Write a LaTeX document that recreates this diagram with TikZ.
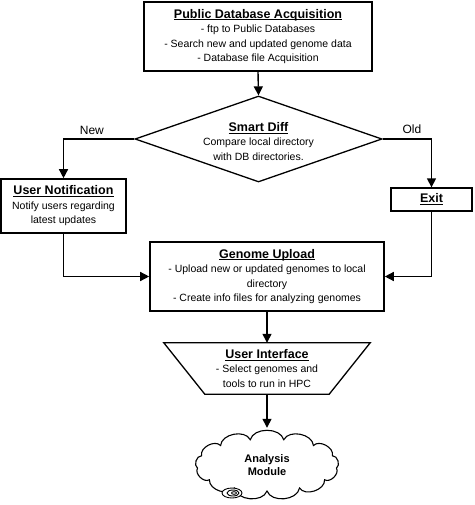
\documentclass[tikz,border=0pt]{standalone}
\usepackage{fontspec}
\setmainfont{Liberation Sans}
\usetikzlibrary{shapes.geometric,arrows.meta,calc}
\newcommand{\ulttl}[1]{\setbox0\hbox{\fontsize{12.5}{14.5}\selectfont\bfseries #1}\rlap{\rule[-2.2pt]{\wd0}{1.1pt}}\box0}
\begin{document}
\begin{tikzpicture}[x=1pt,y=-1pt,
  txt/.style={font=\fontsize{10.5}{14.5}\selectfont, align=center},
  lbl/.style={font=\fontsize{12}{14}\selectfont},
  boxa/.style={txt, draw, line width=1.6pt, inner sep=0pt},
  conn/.style={line width=1.4pt, -{Triangle[length=9pt,width=9pt]}},
  cloudline/.style={line width=1.1pt}]
\useasboundingbox (0,0) rectangle (474,505);
\fill[white] (0,0) rectangle (474,505);
% top box
\node[boxa, line width=2pt, minimum width=228pt, minimum height=69pt] (pda) at (258,36.5)
  {\ulttl{Public Database Acquisition}\\- ftp to Public Databases\\- Search new and updated genome data\\- Database file Acquisition};
% diamond
\node[diamond, draw, line width=1.3pt, aspect=2.87, inner sep=0pt, minimum width=247pt, minimum height=86pt] (sd) at (258.5,139) {};
\node[txt, inner sep=0pt] (sdt) at (258.5,141.5) {\ulttl{Smart Diff}\\Compare local directory\\with DB directories.};
% user notification
\node[boxa, minimum width=125pt, minimum height=54pt] (un) at (63.5,206)
  {\ulttl{User Notification}\\Notify users regarding\\latest updates};
% exit
\node[boxa, line width=1.3pt, minimum width=81pt, minimum height=23pt] (ex) at (431.5,199.5) {\ulttl{Exit}};
% genome upload
\node[boxa, minimum width=234pt, minimum height=69pt] (gu) at (267,276.5)
  {\ulttl{Genome Upload}\\- Upload new or updated genomes to local\\directory\\- Create info files for analyzing genomes};
% user interface (inverted trapezium)
\node[txt, inner sep=0pt, minimum width=206pt, minimum height=51pt] (ui) at (267,368.5)
  {\ulttl{User Interface}\\- Select genomes and\\tools to run in HPC};
\draw[line width=1.3pt] (ui.north west) -- (ui.north east) -- ($(ui.south east)+(-41,0)$) -- ($(ui.south west)+(41,0)$) -- cycle;
% cloud
\coordinate (amc) at (267,465);
\draw[cloudline, fill=white] ($(amc)+({70*cos(283.846)},{26*sin(283.846)})$)
  \foreach \i in {1,...,13} { to[bend left=75] ($(amc)+({70*cos(283.846+\i*27.6923)},{26*sin(283.846+\i*27.6923)})$) } -- cycle;
\node[inner sep=0pt, minimum width=147pt, minimum height=74pt, align=center, font=\fontsize{11}{13.5}\selectfont\bfseries] (am) at (amc)
  {Analysis\\Module};
\coordinate (sp) at (232,493);
\draw[line width=0.9pt, fill=white] (sp) ellipse [x radius=10pt, y radius=5pt];
\draw[line width=0.9pt] ($(sp)+(1,0)$) ellipse [x radius=6pt, y radius=3pt];
\draw[line width=0.9pt] ($(sp)+(2,0)$) ellipse [x radius=2.5pt, y radius=1.3pt];
% connectors
\draw[conn] (pda.south) -- (sd.north);
\draw[conn] (sd.west) -| node[pos=0.3, above, lbl] {New} (un.north);
\draw[conn] (sd.east) -| node[pos=0.3, above, lbl, yshift=1pt] {Old} (ex.north);
\draw[conn] (un.south) |- (gu.west);
\draw[conn] (ex.south) |- (gu.east);
\draw[conn] (gu.south) -- (ui.north);
\draw[conn] (ui.south) -- (am.north);
\end{tikzpicture}
\end{document}
